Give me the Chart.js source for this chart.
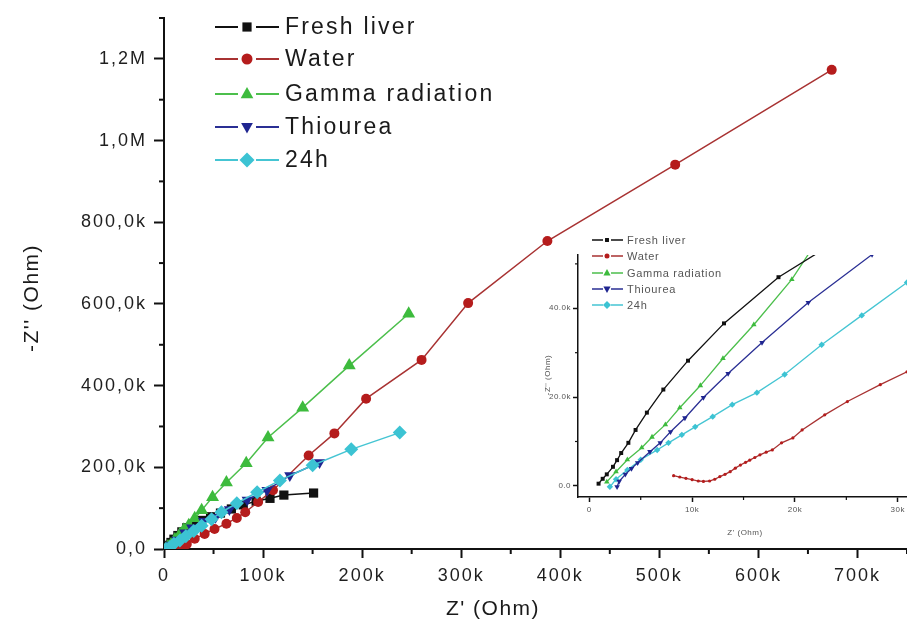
<!DOCTYPE html>
<html><head><meta charset="utf-8">
<script src="https://cdn.jsdelivr.net/npm/chart.js@4.4.1/dist/chart.umd.min.js"></script>
<style>
html,body{margin:0;padding:0;background:#fff;}
#wrap{position:relative;width:907px;height:628px;overflow:hidden;background:#fff;}
#main{position:absolute;left:0;top:0;}
#inset{position:absolute;left:520px;top:230px;}
</style></head><body>
<div id="wrap"><canvas id="main" width="907" height="628"></canvas><canvas id="inset" width="387" height="330"></canvas></div>
<script>
// ---------- DATA (kOhm) ----------
const seriesNames = ['Fresh liver', 'Water', 'Gamma radiation', 'Thiourea', '24h'];

// main plot
const freshLiverX = [1, 2, 4, 7, 10, 14, 18, 23, 30, 38, 47, 57, 68, 80, 93, 107, 121, 151];
const freshLiverY = [1, 4, 9, 16, 24, 33, 42, 52, 61, 70, 79, 88, 98, 108, 117, 124, 132, 137];
const waterX = [8, 11, 14, 18, 23, 31, 41, 51, 63, 73.5, 82, 95, 110, 146, 172, 204, 260, 307, 387, 516, 674];
const waterY = [2, 1, 3, 7, 12, 25, 37, 49, 62, 76, 90, 115, 144, 229, 283, 368, 463, 602, 754, 941, 1173];
const gammaX = [2, 4, 7, 11, 16, 20, 25, 31, 38, 49, 63, 83, 105, 140, 187, 247];
const gammaY = [1, 6, 11, 23, 36, 47, 58, 75, 95, 127, 163, 210, 273, 346, 449, 576];
const thioureaX = [3, 7, 13, 21, 28, 40, 52, 66, 84, 104, 127, 157];
const thioureaY = [1, 10, 22, 40, 52, 68, 78, 97, 120, 144, 180, 212];
const h24X = [2, 6, 10, 16, 22, 30, 38, 48, 58, 73.5, 94, 117, 150, 189, 238];
const h24Y = [0, 5, 13, 21, 31, 44, 57, 73, 90, 112, 139, 168, 205, 244, 285];

const mainXTicks = [0, 100, 200, 300, 400, 500, 600, 700];
const mainXTickLabels = ['0', '100k', '200k', '300k', '400k', '500k', '600k', '700k'];
const mainXMinor = [50, 150, 250, 350, 450, 550, 650, 750];
const mainYTicks = [0, 200, 400, 600, 800, 1000, 1200];
const mainYTickLabels = ['0,0', '200,0k', '400,0k', '600,0k', '800,0k', '1,0M', '1,2M'];
const mainYMinor = [100, 300, 500, 700, 900, 1100, 1300];

// inset plot
const insetFreshX = [0.9, 1.3, 1.7, 2.3, 2.7, 3.1, 3.8, 4.5, 5.6, 7.2, 9.6, 13.1, 18.4, 22.8];
const insetFreshY = [0.5, 1.6, 2.6, 4.3, 5.8, 7.4, 9.7, 12.6, 16.5, 21.7, 28.2, 36.6, 47, 53.3];
const insetWaterX = [8.2, 8.8, 9.4, 10, 10.6, 11.1, 11.7, 12.2, 12.7, 13.2, 13.7, 14.2, 14.7, 15.2, 15.6, 16.1, 16.6, 17.2, 17.8, 18.7, 19.8, 20.7, 22.9, 25.1, 28.3, 30.9, 33];
const insetWaterY = [2.3, 2.0, 1.7, 1.4, 1.1, 1.0, 1.1, 1.5, 2.1, 2.6, 3.2, 4.0, 4.7, 5.3, 5.8, 6.4, 7.0, 7.6, 8.1, 9.7, 10.8, 12.6, 16, 19, 22.8, 25.7, 28.5];
const insetGammaX = [1.7, 2.6, 3.7, 5.1, 6.1, 7.4, 8.8, 10.8, 13, 16, 19.7, 21.4];
const insetGammaY = [0.9, 3.2, 5.9, 8.6, 11, 13.8, 17.6, 22.6, 28.7, 36.3, 46.5, 52.5];
const insetThioureaX = [2.7, 2.9, 3.5, 4.1, 4.7, 5.9, 6.9, 7.9, 9.3, 11.1, 13.5, 16.8, 21.3, 27.5];
const insetThioureaY = [-0.2, 1, 2.6, 3.9, 5.2, 7.7, 9.7, 12.2, 15.3, 19.9, 25.3, 32.3, 41.3, 52.1];
const inset24hX = [2, 2.6, 3.7, 5, 6.6, 7.7, 9, 10.3, 12, 13.9, 16.3, 19, 22.6, 26.5, 30.9, 33];
const inset24hY = [-0.2, 1.5, 3.6, 5.9, 8.1, 9.7, 11.5, 13.3, 15.6, 18.3, 21, 25.1, 31.8, 38.4, 45.8, 49.5];

const insetXTicks = [0, 10, 20, 30];
const insetXTickLabels = ['0', '10k', '20k', '30k'];
const insetXMinor = [5, 15, 25];
const insetYTicks = [0, 20, 40];
const insetYTickLabels = ['0.0', '20.0k', '40.0k'];
const insetYMinor = [10, 30, 50];

// ---------- STYLE ----------
const colors = ['#111111', '#b51c1c', '#3dbb3d', '#1f2590', '#3cc3d3'];
const lineColors = ['#111111', '#a83232', '#4cbf4c', '#2a2f94', '#45c5d3'];
const pStyles = ['rect', 'circle', 'triangle', 'triangle', 'rectRot'];
const pRot = [0, 0, 0, 180, 0];

function pts(xs, ys) { return xs.map((x, i) => ({ x: x, y: ys[i] })); }

function drawMarker(ctx, style, rot, r, x, y, fill) {
  ctx.save();
  ctx.fillStyle = fill; ctx.strokeStyle = fill;
  ctx.translate(x, y);
  ctx.rotate(rot * Math.PI / 180);
  ctx.beginPath();
  if (style === 'rect') { const s = r * Math.SQRT1_2; ctx.rect(-s, -s, 2 * s, 2 * s); }
  else if (style === 'circle') { ctx.arc(0, 0, r, 0, Math.PI * 2); }
  else if (style === 'triangle') { ctx.moveTo(0, -r); ctx.lineTo(r * 0.9, r * 0.6); ctx.lineTo(-r * 0.9, r * 0.6); ctx.closePath(); }
  else if (style === 'rectRot') { ctx.moveTo(0, -r); ctx.lineTo(r, 0); ctx.lineTo(0, r); ctx.lineTo(-r, 0); ctx.closePath(); }
  ctx.fill();
  ctx.restore();
}

const customTicks = {
  id: 'customTicks',
  beforeLayout(chart, a, o) { chart.ctx.letterSpacing = o.spacing || '0px'; },
  beforeDraw(chart, a, o) { chart.ctx.letterSpacing = o.spacing || '0px'; },
  afterDraw(chart, args, o) {
    const ctx = chart.ctx, xs = chart.scales.x, ys = chart.scales.y;
    ctx.save();
    ctx.strokeStyle = '#111'; ctx.lineWidth = o.width;
    o.xMinor.forEach(v => { const px = xs.getPixelForValue(v); ctx.beginPath(); ctx.moveTo(px, xs.top); ctx.lineTo(px, xs.top + o.len); ctx.stroke(); });
    o.yMinor.forEach(v => { const py = ys.getPixelForValue(v); ctx.beginPath(); ctx.moveTo(ys.right, py); ctx.lineTo(ys.right - o.len, py); ctx.stroke(); });
    // legend
    const L = o.legend;
    ctx.font = L.font; ctx.letterSpacing = L.spacing; ctx.textBaseline = 'middle'; ctx.textAlign = 'left';
    chart.data.datasets.forEach((ds, i) => {
      const y = L.rows[i];
      ctx.strokeStyle = lineColors[i]; ctx.lineWidth = L.lw;
      ctx.beginPath(); ctx.moveTo(L.x0, y); ctx.lineTo(L.mx - L.gap, y); ctx.moveTo(L.mx + L.gap, y); ctx.lineTo(L.x1, y); ctx.stroke();
      drawMarker(ctx, pStyles[i], pRot[i], L.r[i], L.mx, y, colors[i]);
      ctx.fillStyle = L.color;
      ctx.fillText(ds.label, L.tx, y + 1);
    });
    // axis titles
    const T = o.titles;
    ctx.font = T.font; ctx.fillStyle = T.color; ctx.letterSpacing = T.spacing; ctx.textAlign = 'center';
    ctx.fillText(T.x, T.xx, T.xy);
    ctx.save(); ctx.translate(T.yx, T.yy); ctx.rotate(-Math.PI / 2); ctx.fillText(T.y, 0, 0); ctx.restore();
    ctx.restore();
  }
};

function makeDatasets(sets, radii, lw, orders) {
  return sets.map((s, i) => ({
    label: seriesNames[i],
    data: pts(s[0], s[1]),
    borderColor: lineColors[i],
    backgroundColor: colors[i],
    pointBackgroundColor: colors[i],
    pointBorderColor: colors[i],
    pointBorderWidth: 0,
    pointStyle: pStyles[i],
    pointRotation: pRot[i],
    pointRadius: radii[i],
    borderWidth: lw,
    tension: 0,
    fill: false,
    order: orders[i]
  }));
}

function axis(min, max, ticks, labels, fontSize, color, tl, bw, pad, isX, fitSize) {
  return {
    type: 'linear', min: min, max: max,
    afterBuildTicks: (sc) => { sc.ticks = ticks.map(v => ({ value: v })); },
    afterFit: (sc) => {
      if (isX) { sc.height = fitSize; sc.paddingLeft = 0; sc.paddingRight = 0; }
      else { sc.width = fitSize; sc.paddingTop = 0; sc.paddingBottom = 0; }
    },
    ticks: { callback: (v, i) => labels[i], font: { family: 'Liberation Sans', size: fontSize }, color: color, padding: pad, autoSkip: false, maxRotation: 0 },
    grid: { display: true, drawOnChartArea: false, drawTicks: true, tickLength: tl, tickWidth: bw, tickColor: '#111' },
    border: { display: true, color: '#111', width: bw }
  };
}

// ---------- MAIN CHART ----------
new Chart(document.getElementById('main'), {
  type: 'line',
  data: {
    datasets: makeDatasets(
      [[freshLiverX, freshLiverY], [waterX, waterY], [gammaX, gammaY], [thioureaX, thioureaY], [h24X, h24Y]],
      [6.5, 5, 7.5, 6.5, 7], 1.5, [4, 2, 3, 1, 0])
  },
  options: {
    responsive: false, animation: false,
    layout: { autoPadding: false, padding: { top: 18, right: 0, left: 0, bottom: 0 } },
    scales: {
      x: axis(0, 750, mainXTicks, mainXTickLabels, 18, '#1e1e1e', 9, 2, 7, true, 79),
      y: axis(0, 1300, mainYTicks, mainYTickLabels, 18, '#1e1e1e', 10, 2, 7, false, 164)
    },
    plugins: {
      legend: { display: false }, tooltip: { enabled: false },
      customTicks: {
        spacing: '2px', width: 2, len: 5, xMinor: mainXMinor, yMinor: mainYMinor,
        legend: { font: '23px "Liberation Sans"', spacing: '2.2px', color: '#1a1a1a', rows: [27, 59, 94, 127, 160], x0: 215, x1: 279, mx: 247, gap: 9, lw: 1.8, r: [6.5, 5.5, 7, 6.5, 7.5], tx: 285 },
        titles: { font: '21px "Liberation Sans"', spacing: '1.5px', color: '#1a1a1a', x: "Z' (Ohm)", xx: 493, xy: 609, y: "-Z'' (Ohm)", yx: 32, yy: 298 }
      }
    }
  },
  plugins: [customTicks]
});

// ---------- INSET CHART ----------
new Chart(document.getElementById('inset'), {
  type: 'line',
  data: {
    datasets: makeDatasets(
      [[insetFreshX, insetFreshY], [insetWaterX, insetWaterY], [insetGammaX, insetGammaY], [insetThioureaX, insetThioureaY], [inset24hX, inset24hY]],
      [2.8, 1.6, 3.2, 3.2, 3.2], 1.3, [0, 4, 1, 2, 3])
  },
  options: {
    responsive: false, animation: false,
    layout: { autoPadding: false, padding: { top: 25, right: 0, left: 0, bottom: 0 } },
    scales: {
      x: axis(-1.1, 30.9, insetXTicks, insetXTickLabels, 8, '#555', 5, 1.5, 3, true, 63),
      y: axis(-2.5, 52, insetYTicks, insetYTickLabels, 8, '#555', 5, 1.5, 2, false, 58)
    },
    plugins: {
      legend: { display: false }, tooltip: { enabled: false },
      customTicks: {
        spacing: '0.5px', width: 1.2, len: 3, xMinor: insetXMinor, yMinor: insetYMinor,
        legend: { font: '11px "Liberation Sans"', spacing: '0.7px', color: '#555', rows: [10, 26, 43, 59, 75], x0: 72, x1: 103, mx: 87, gap: 4, lw: 1.5, r: [2.8, 2.5, 4, 4, 4], tx: 107 },
        titles: { font: '8px "Liberation Sans"', spacing: '0.5px', color: '#555', x: "Z' (Ohm)", xx: 225, xy: 303, y: "-Z'' (Ohm)", yx: 28, yy: 145 }
      }
    }
  },
  plugins: [customTicks]
});
</script>
</body></html>
